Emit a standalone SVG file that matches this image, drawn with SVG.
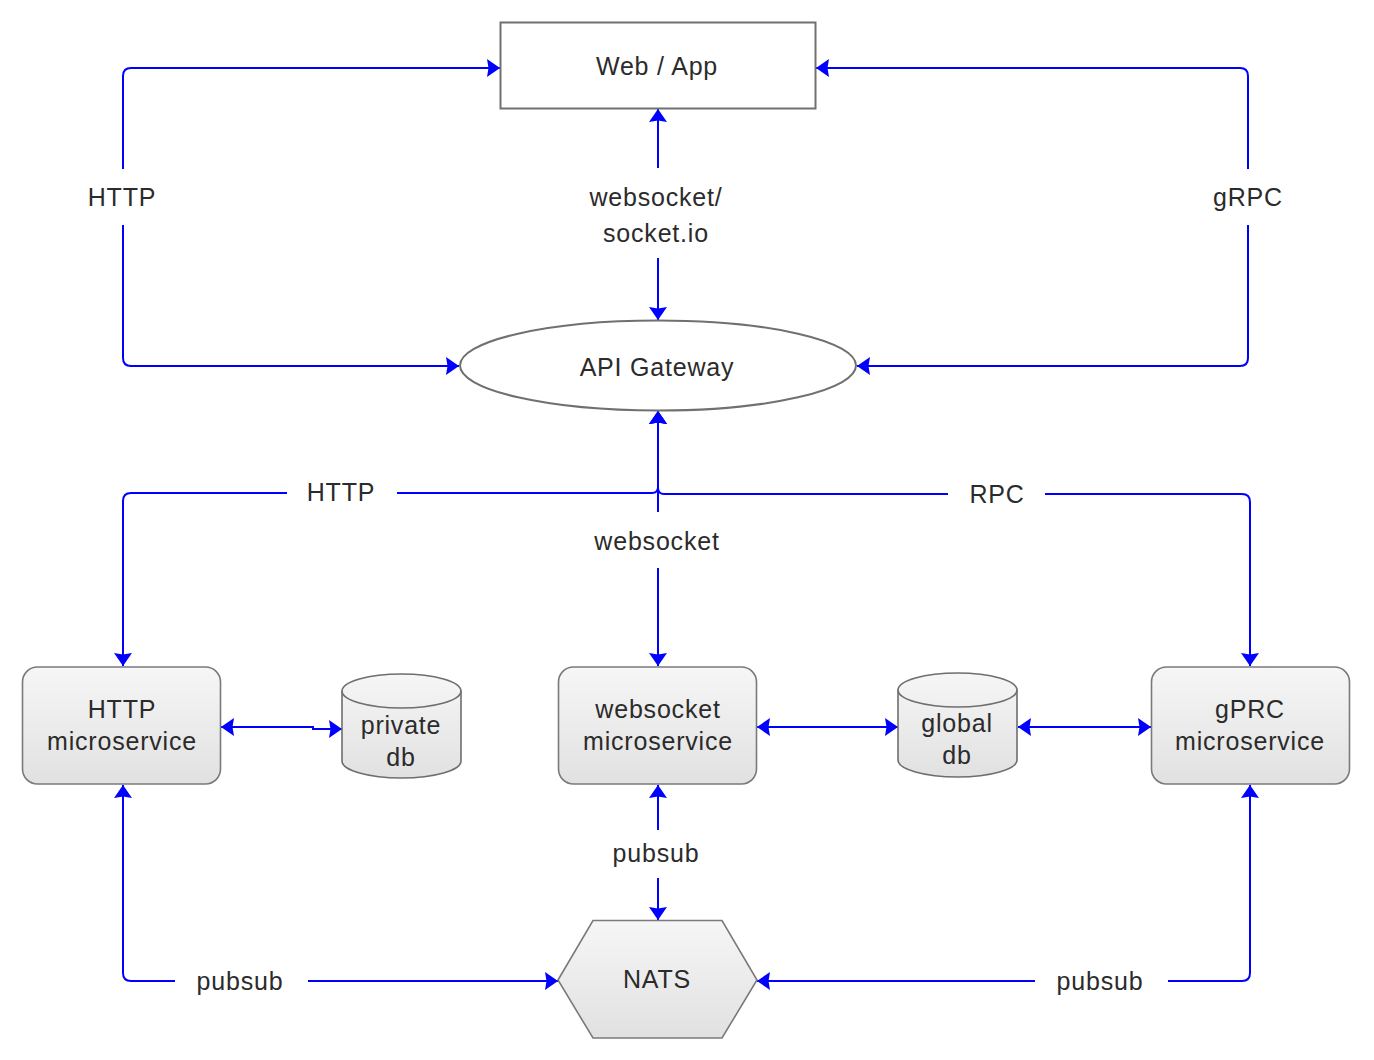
<svg xmlns="http://www.w3.org/2000/svg" width="1374" height="1060" viewBox="0 0 1374 1060">
  <defs>
    <linearGradient id="nodeFill" x1="0" y1="0" x2="0" y2="1">
      <stop offset="0" stop-color="#f6f6f6"/>
      <stop offset="1" stop-color="#e1e1e1"/>
    </linearGradient>
    <marker id="arrow" viewBox="0 0 13 18" refX="13" refY="9" markerWidth="13" markerHeight="18" markerUnits="userSpaceOnUse" orient="auto-start-reverse">
      <path d="M0,0 L13,9 L0,18 L1.5,9 Z" fill="#0000ff"/>
    </marker>
    <style>
      .conn { fill: none; stroke: #0000ff; stroke-width: 2; marker-start: url(#arrow); marker-end: url(#arrow); }
      .plain { fill: #ffffff; stroke: #707070; stroke-width: 2; }
      .svc { fill: url(#nodeFill); stroke: #7a7a7a; stroke-width: 1.6; }
      .db { fill: url(#nodeFill); stroke: #6e6e6e; stroke-width: 1.6; }
      .cap { fill: none; stroke: #6e6e6e; stroke-width: 1.6; }
      text { font-family: "Liberation Sans", Arial, Helvetica, sans-serif; font-size: 25px; letter-spacing: 0.8px; fill: #2b2b2b; text-anchor: middle; }
      .lblbg { fill: #ffffff; }
    </style>
  </defs>

  <rect width="1374" height="1060" fill="#ffffff"/>

  <!-- connectors -->
  <g id="connectors">
    <!-- Web/App <-> API Gateway -->
    <path class="conn" d="M459,366 L131,366 Q123,366 123,358 L123,76 Q123,68 131,68 L500,68"/>
    <path class="conn" d="M857,366 L1240,366 Q1248,366 1248,358 L1248,76 Q1248,68 1240,68 L816,68"/>
    <path class="conn" d="M658,109 L658,320"/>
    <!-- API Gateway <-> microservices -->
    <path class="conn" d="M658,411 L658,487 Q658,493 652,493 L131,493 Q123,493 123,501 L123,666"/>
    <path class="conn" d="M658,411 L658,488 Q658,494 664,494 L1242,494 Q1250,494 1250,502 L1250,666"/>
    <path class="conn" d="M658,411 L658,666"/>
    <!-- microservices <-> databases -->
    <path class="conn" d="M221,727 L313,727 L313,729 L342,729"/>
    <path class="conn" d="M757,727 L898,727"/>
    <path class="conn" d="M1018,727 L1151,727"/>
    <!-- microservices <-> NATS -->
    <path class="conn" d="M658,785 L658,920"/>
    <path class="conn" d="M123,785 L123,973 Q123,981 131,981 L558,981"/>
    <path class="conn" d="M1250,785 L1250,973 Q1250,981 1242,981 L757,981"/>
  </g>

  <!-- connector labels -->
  <g id="labels">
    <rect class="lblbg" x="66" y="169" width="112" height="56"/>
    <text x="122" y="206">HTTP</text>
    <rect class="lblbg" x="570" y="168" width="175" height="90"/>
    <text x="656" y="206">websocket/</text>
    <text x="656" y="242">socket.io</text>
    <rect class="lblbg" x="1200" y="169" width="96" height="56"/>
    <text x="1248" y="206">gRPC</text>
    <rect class="lblbg" x="287" y="470" width="110" height="46"/>
    <text x="341" y="501">HTTP</text>
    <rect class="lblbg" x="948" y="470" width="97" height="48"/>
    <text x="997" y="503">RPC</text>
    <rect class="lblbg" x="580" y="512" width="155" height="56"/>
    <text x="657" y="550">websocket</text>
    <rect class="lblbg" x="600" y="830" width="112" height="48"/>
    <text x="656" y="862">pubsub</text>
    <rect class="lblbg" x="175" y="960" width="133" height="42"/>
    <text x="240" y="990">pubsub</text>
    <rect class="lblbg" x="1035" y="960" width="133" height="42"/>
    <text x="1100" y="990">pubsub</text>
  </g>

  <!-- nodes -->
  <g id="web-app">
    <rect class="plain" x="500.5" y="22.5" width="315" height="86"/>
    <text x="657" y="75">Web / App</text>
  </g>

  <g id="api-gateway">
    <ellipse class="plain" cx="658" cy="365.5" rx="198" ry="45"/>
    <text x="657" y="376">API Gateway</text>
  </g>

  <g id="http-microservice">
    <rect class="svc" x="22.5" y="667" width="198" height="117" rx="15" ry="15"/>
    <text x="122" y="718">HTTP</text>
    <text x="122" y="750">microservice</text>
  </g>

  <g id="private-db">
    <path class="db" d="M342,691 A59.5,17 0 0 1 461,691 L461,761 A59.5,17 0 0 1 342,761 Z"/>
    <path class="cap" d="M342,691 A59.5,17 0 0 0 461,691"/>
    <text x="401" y="734">private</text>
    <text x="401" y="766">db</text>
  </g>

  <g id="websocket-microservice">
    <rect class="svc" x="558.5" y="667" width="198" height="117" rx="15" ry="15"/>
    <text x="658" y="718">websocket</text>
    <text x="658" y="750">microservice</text>
  </g>

  <g id="global-db">
    <path class="db" d="M898,690 A59.5,17 0 0 1 1017,690 L1017,760 A59.5,17 0 0 1 898,760 Z"/>
    <path class="cap" d="M898,690 A59.5,17 0 0 0 1017,690"/>
    <text x="957" y="732">global</text>
    <text x="957" y="764">db</text>
  </g>

  <g id="grpc-microservice">
    <rect class="svc" x="1151.5" y="667" width="198" height="117" rx="15" ry="15"/>
    <text x="1250" y="718">gPRC</text>
    <text x="1250" y="750">microservice</text>
  </g>

  <g id="nats">
    <polygon class="svc" points="558,980 593,920.5 722,920.5 757,980 722,1038 593,1038"/>
    <text x="657" y="988">NATS</text>
  </g>
</svg>
